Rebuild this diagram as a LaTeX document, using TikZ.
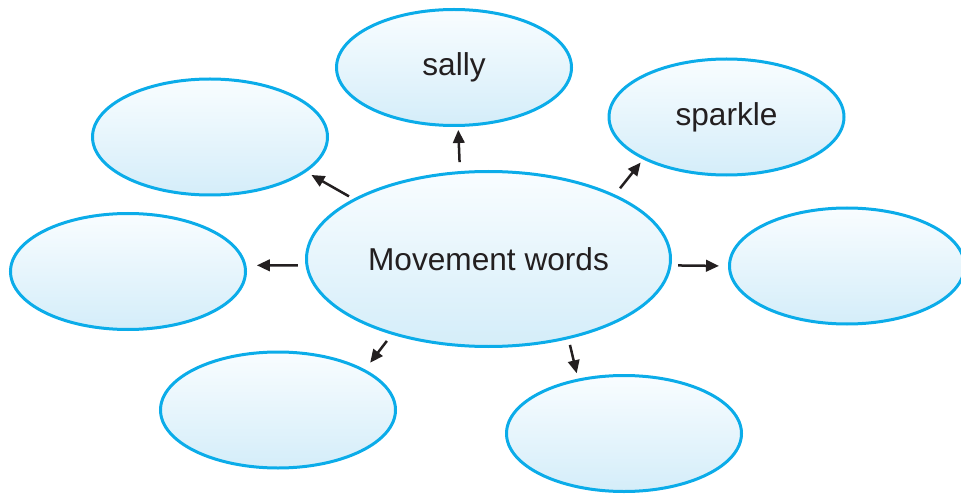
\documentclass[tikz,border=0pt]{standalone}
\usepackage{fontspec}
\setmainfont{Liberation Sans}
\usepackage{tikz}
\usetikzlibrary{shapes.geometric,arrows.meta}
\definecolor{bubbleline}{HTML}{0BACE9}
\definecolor{bubbletop}{HTML}{F9FDFF}
\definecolor{bubblebot}{HTML}{D4EDF9}
\definecolor{inkdark}{HTML}{231F20}
\newcommand{\bw}{4.70cm}
\newcommand{\bh}{2.32cm}

\begin{document}
\begin{tikzpicture}[
  bubble/.style={ellipse,draw=bubbleline,line width=0.06cm,top color=bubbletop,bottom color=bubblebot,
    minimum width=\bw,minimum height=\bh,inner sep=0pt,text=inkdark,font=\fontsize{18}{21}\selectfont},
  arr/.style={draw=inkdark,line width=0.05cm,-{Triangle[length=0.26cm,width=0.23cm]}}
]
\useasboundingbox (0,0) rectangle (19.22,9.98);
\clip (0,0) rectangle (19.22,9.98);

\node[bubble,minimum width=7.28cm,minimum height=3.50cm] (main) at (9.77,4.80) {Movement words};
\node[bubble] (sally) at (9.08,8.63) {sally};
\node[bubble] (sparkle) at (14.53,7.64) {sparkle};
\node[bubble] (topleft) at (4.20,7.24) {};
\node[bubble] (left) at (2.56,4.55) {};
\node[bubble] (right) at (16.94,4.66) {};
\node[bubble] (botleft) at (5.56,1.78) {};
\node[bubble] (botright) at (12.48,1.31) {};

\draw[arr,shorten <=0.18cm,shorten >=0.06cm] (main.108) -- (sally.274);
\draw[arr,shorten <=0.16cm,shorten >=0.08cm] (main.27) -- (sparkle.207);
\draw[arr,shorten <=0.10cm,shorten >=0.12cm] (main.156) -- (topleft.340);
\draw[arr,shorten <=0.15cm,shorten >=0.21cm] (main.182) -- (left.3);
\draw[arr,shorten <=0.13cm,shorten >=0.18cm] (main.358) -- (right.180);
\draw[arr,shorten <=0.16cm,shorten >=0.17cm] (main.218) -- (botleft.25);
\draw[arr,shorten <=0.12cm,shorten >=0.11cm] (main.315) -- (botright.130);
\end{tikzpicture}
\end{document}
